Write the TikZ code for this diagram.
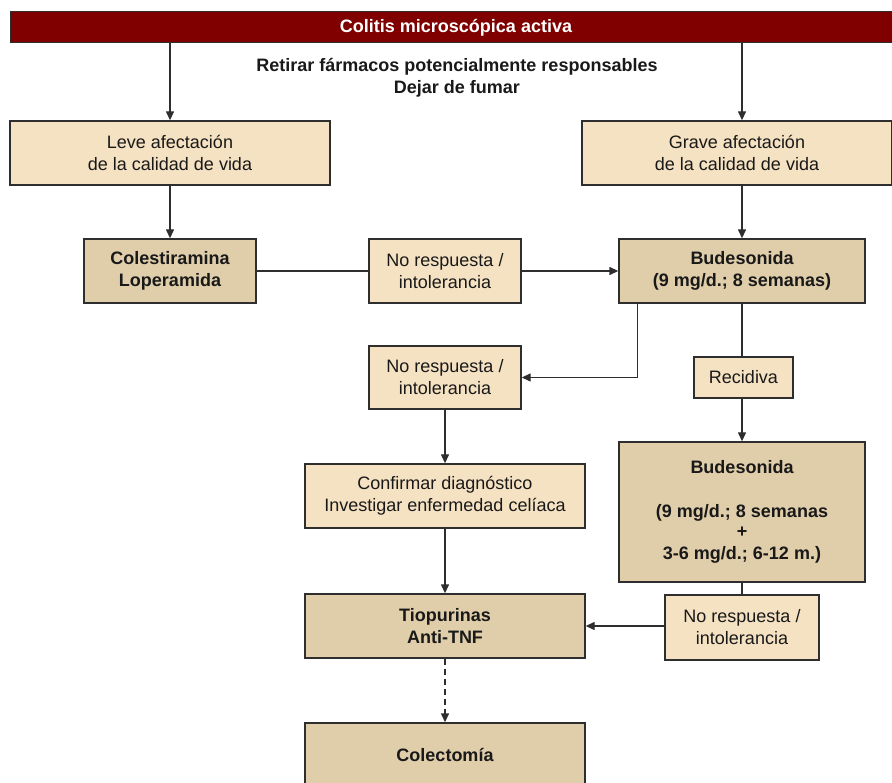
\documentclass[tikz,border=0pt]{standalone}
\usepackage{fontspec}
\setmainfont{Liberation Sans}
\usetikzlibrary{arrows.meta}
\definecolor{hdr}{HTML}{800000}
\definecolor{lightf}{HTML}{F5E2C2}
\definecolor{darkf}{HTML}{E0CEAA}
\definecolor{edge}{HTML}{2E2E2E}
\tikzset{
  base/.style={draw=edge, line width=1.4pt, align=center, inner sep=2pt,
    font=\fontsize{18}{22}\selectfont, text=black!90},
  lbox/.style={base, fill=lightf},
  dbox/.style={base, fill=darkf, font=\fontsize{18}{22}\selectfont\bfseries},
  arr/.style={draw=edge, line width=1.4pt, -{Triangle[length=9pt,width=8pt]}},
  ln/.style={draw=edge, line width=1.4pt},
}
\begin{document}
\begin{tikzpicture}[x=1pt,y=-1pt]
\useasboundingbox (0,0) rectangle (892,783);
\node[draw=edge, line width=1pt, fill=hdr, minimum width=884pt, minimum height=31pt, inner sep=0pt] (header) at (452,27.5) {};
\node[text=white, font=\fontsize{18}{20}\selectfont\bfseries] (htext) at (456,27.5) {Colitis microscópica activa};
\node[align=center, font=\fontsize{18}{22}\selectfont\bfseries, text=black!90] (retirar) at (457,78) {Retirar fármacos potencialmente responsables\\Dejar de fumar};

\node[lbox, minimum width=320pt, minimum height=64pt] (leve) at (170,153) {Leve afectación\\de la calidad de vida};
\node[lbox, minimum width=310pt, minimum height=64pt] (grave) at (737,153) {Grave afectación\\de la calidad de vida};
\node[dbox, minimum width=172pt, minimum height=64pt] (colest) at (170,271) {Colestiramina\\Loperamida};
\node[lbox, minimum width=152pt, minimum height=64pt] (nr1) at (445,271) {No respuesta /\\intolerancia};
\node[dbox, minimum width=246pt, minimum height=64pt] (bud1) at (742,271) {Budesonida\\(9 mg/d.; 8 semanas)};
\node[lbox, minimum width=152pt, minimum height=63pt] (nr2) at (445,377.5) {No respuesta /\\intolerancia};
\node[lbox, minimum width=99pt, minimum height=41pt] (recid) at (743.5,377.5) {Recidiva};
\node[dbox, minimum width=246pt, minimum height=140pt] (bud2) at (742,512) {Budesonida\\[22pt](9 mg/d.; 8 semanas\\[-2pt]+\\3-6 mg/d.; 6-12 m.)};
\node[lbox, minimum width=280pt, minimum height=64pt] (conf) at (445,496) {Confirmar diagnóstico\\Investigar enfermedad celíaca};
\node[dbox, minimum width=280pt, minimum height=64pt] (tiop) at (445,626) {Tiopurinas\\Anti-TNF};
\node[lbox, minimum width=154pt, minimum height=65pt] (nr3) at (742,627.5) {No respuesta /\\intolerancia};
\node[dbox, minimum width=280pt, minimum height=64pt] (colec) at (445,755) {Colectomía};

\draw[arr] (header.south -| leve.north) -- (leve.north);
\draw[arr] (header.south -| bud1.north) -- (bud1.north |- grave.north);
\draw[arr] (leve.south) -- (colest.north);
\draw[arr] (bud1.north |- grave.south) -- (bud1.north);
\draw[ln] (colest.east) -- (nr1.west);
\draw[arr] (nr1.east) -- (bud1.west);
\draw[arr] ([xshift=19pt]bud1.south west) |- (nr2.east);
\draw[ln] (bud1.south) -- (bud1.south |- recid.north);
\draw[arr] (bud1.south |- recid.south) -- (bud2.north);
\draw[arr] (nr2.south) -- (conf.north);
\draw[arr] (conf.south) -- (tiop.north);
\draw[ln] (bud2.south) -- (nr3.north);
\draw[arr] (nr3.west |- tiop.east) -- (tiop.east);
\draw[arr, dashed, dash pattern=on 6pt off 4pt] (tiop.south) -- (colec.north);
\end{tikzpicture}
\end{document}
